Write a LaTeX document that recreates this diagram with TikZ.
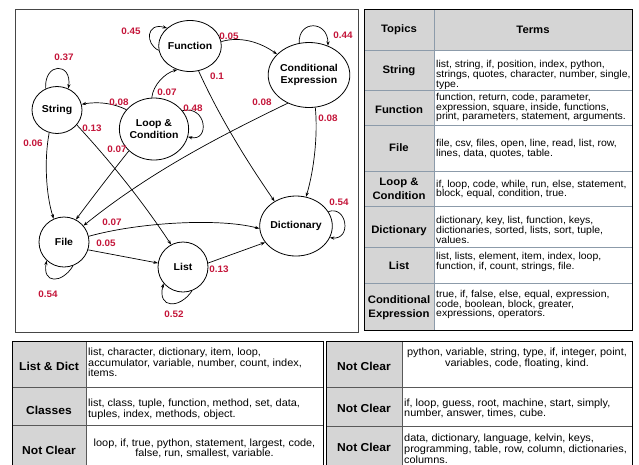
\documentclass[tikz,border=0pt]{standalone}
\usepackage{fontspec}
\setmainfont{Liberation Sans}[FakeStretch=1.05]
\usetikzlibrary{shapes.geometric,arrows.meta}
\definecolor{lblred}{RGB}{196,22,58}
\definecolor{cellgray}{RGB}{213,213,213}
\definecolor{gridblue}{RGB}{140,155,170}
\definecolor{framegray}{RGB}{70,70,70}
\begin{document}
\begin{tikzpicture}[x=1pt,y=-1pt,
  st/.style={draw,ellipse,inner sep=0pt,line width=0.8pt,font=\fontsize{10}{12.8}\selectfont\bfseries,align=center},
  ed/.style={-{Stealth[length=4.5pt,width=3.2pt]},line width=0.7pt},
  pr/.style={text=lblred,font=\fontsize{9.4}{10}\selectfont\bfseries,inner sep=0pt},
  tt/.style={font=\fontsize{10}{9.7}\selectfont,align=left,anchor=west,inner sep=0pt},
  ttb/.style={font=\fontsize{10.4}{10.8}\selectfont,align=left,anchor=west,inner sep=0pt},
  ttc/.style={font=\fontsize{10.4}{10.8}\selectfont,align=center,inner sep=0pt},
  th/.style={font=\fontsize{10.8}{14}\selectfont\bfseries,align=center,inner sep=0pt},
  thb/.style={font=\fontsize{11.5}{14}\selectfont\bfseries,align=center,inner sep=0pt},
  grid/.style={draw=gridblue,line width=0.8pt},
  gridd/.style={draw=gray!70!black,line width=0.8pt}]
\useasboundingbox (0,0) rectangle (639,464);

% ---------------- graph frame
\draw[framegray,line width=0.9pt] (15,9) rectangle (358,332);

% nodes
\node[st,minimum width=53pt,minimum height=51pt] (fn) at (190,46) {Function};
\node[st,minimum width=73pt,minimum height=65pt] (ce) at (309,75) {Conditional\\Expression};
\node[st,minimum width=50pt,minimum height=47pt] (str) at (57,110) {String};
\node[st,minimum width=61pt,minimum height=62pt] (lc) at (154,129) {Loop \&\\Condition};
\node[st,minimum width=50pt,minimum height=50pt] (fi) at (64,242) {File};
\node[st,minimum width=50pt,minimum height=50pt] (li) at (183,267) {List};
\node[st,minimum width=58pt,minimum height=60pt] (di) at (296,226) {Dictionary};

% self loops
\draw[ed] (fn.188) .. controls (145,44) and (146,22) .. (fn.142);
\draw[ed] (ce.107) .. controls (298,20) and (328,20) .. (ce.57);
\draw[ed] (str.118) .. controls (44,62) and (72,62) .. (str.62);
\draw[ed] (lc.33) .. controls (207,105) and (210,142) .. (lc.-13);
\draw[ed] (di.24) .. controls (347,205) and (352,240) .. (di.-19);
\draw[ed] (fi.-69) .. controls (62,284) and (42,284) .. (fi.-133);
\draw[ed] (li.-69) .. controls (180,309) and (157,309) .. (li.-140);

% edges
\draw[ed] (fn.8) .. controls (240,36) and (260,42) .. (ce.147);
\draw[ed] (fn.-71) .. controls (219,116) and (246,160) .. (di.131);
\draw[ed] (ce.-127) .. controls (220,136) and (150,172) .. (fi.40);
\draw[ed] (ce.-79) .. controls (318,135) and (314,170) .. (di.71);
\draw[ed] (str.-109) .. controls (44,160) and (46,195) .. (fi.114);
\draw[ed] (str.-37) .. controls (111,162) and (143,202) .. (li.118);
\draw[ed] (lc.145) .. controls (115,104) and (100,101) .. (str.13);
\draw[ed] (lc.94) .. controls (153,85) and (165,73) .. (fn.-118);
\draw[ed] (lc.-139) .. controls (112,172) and (92,198) .. (fi.62);
\draw[ed] (fi.13) .. controls (140,222) and (220,218) .. (di.184);
\draw[ed] (fi.-18) -- (li.171);
\draw[ed] (li.9) -- (di.208);

% probabilities
\node[pr] (p1) at (131,31) {0.45};
\node[pr] (p2) at (229,36) {0.05};
\node[pr] (p3) at (343,35) {0.44};
\node[pr] (p4) at (64,57) {0.37};
\node[pr] (p5) at (217,76) {0.1};
\node[pr] (p6) at (167,92) {0.07};
\node[pr] (p7) at (119,102) {0.08};
\node[pr] (p8) at (193,108) {0.48};
\node[pr] (p9) at (262,102) {0.08};
\node[pr] (p10) at (328,118) {0.08};
\node[pr] (p11) at (92,128) {0.13};
\node[pr] (p12) at (33,143) {0.06};
\node[pr] (p13) at (117,149) {0.07};
\node[pr] (p14) at (339,202) {0.54};
\node[pr] (p15) at (112,222) {0.07};
\node[pr] (p16) at (106,243) {0.05};
\node[pr] (p17) at (219,269) {0.13};
\node[pr] (p18) at (48,294) {0.54};
\node[pr] (p19) at (174,314) {0.52};

% ---------------- top right table
\fill[cellgray] (364,9) rectangle (632,50);
\fill[cellgray] (364,50) rectangle (434,330);
\foreach \yy in {50,90,125,171,206,247,283} \draw[grid] (364,\yy) -- (632,\yy);
\draw[grid] (434,9) -- (434,330);
\draw[black,line width=0.9pt] (364,9) rectangle (632,330);

\node[th] (h1) at (399,30) {Topics};
\node[th] (h2) at (533,30) {Terms};
\node[th] (t1) at (399,71) {String};
\node[th] (t2) at (399,110) {Function};
\node[th] (t3) at (399,148) {File};
\node[th] (t4) at (399,189) {Loop \&\\Condition};
\node[th] (t5) at (399,231) {Dictionary};
\node[th] (t6) at (399,266) {List};
\node[th] (t7) at (399,308) {Conditional\\Expression};

\node[tt] (w1) at (436,75) {list, string, if, position, index, python,\\strings, quotes, character, number, single,\\type.};
\node[tt] (w2) at (436,107.5) {function, return, code, parameter,\\expression, square, inside, functions,\\print, parameters, statement, arguments.};
\node[tt] (w3) at (436,149) {file, csv, files, open, line, read, list, row,\\lines, data, quotes, table.};
\node[tt] (w4) at (436,189.5) {if, loop, code, while, run, else, statement,\\block, equal, condition, true.};
\node[tt] (w5) at (436,229.8) {dictionary, key, list, function, keys,\\dictionaries, sorted, lists, sort, tuple,\\values.};
\node[tt] (w6) at (436,262) {list, lists, element, item, index, loop,\\function, if, count, strings, file.};
\node[tt] (w7) at (436,304.5) {true, if, false, else, equal, expression,\\code, boolean, block, greater,\\expressions, operators.};

% ---------------- bottom left table
\fill[cellgray] (12,341) rectangle (86,480);
\foreach \yy in {387,425} \draw[gridd] (12,\yy) -- (323,\yy);
\draw[gridd] (86,341) -- (86,480);
\draw[black,line width=0.9pt] (12,480) -- (12,341) -- (323,341) -- (323,480);

\node[thb] (b1) at (49,366) {List \& Dict};
\node[thb] (b2) at (49,410.5) {Classes};
\node[thb] (b3) at (49,450.5) {Not Clear};
\node[ttb] (c1) at (88,362.3) {list, character, dictionary, item, loop,\\accumulator, variable, number, count, index,\\items.};
\node[ttb] (c2) at (88,409.5) {list, class, tuple, function, method, set, data,\\tuples, index, methods, object.};
\node[ttc] (c3) at (204.5,448.3) {loop, if, true, python, statement, largest, code,\\false, run, smallest, variable.};

% ---------------- bottom right table
\fill[cellgray] (326,341) rectangle (402,480);
\foreach \yy in {387,426} \draw[gridd] (326,\yy) -- (632,\yy);
\draw[gridd] (402,341) -- (402,480);
\draw[black,line width=0.9pt] (326,480) -- (326,341) -- (632,341) -- (632,480);

\node[thb] (r1) at (364,366) {Not Clear};
\node[thb] (r2) at (364,408.7) {Not Clear};
\node[thb] (r3) at (364,447.3) {Not Clear};
\node[ttc] (d1) at (517,358) {python, variable, string, type, if, integer, point,\\variables, code, floating, kind.};
\node[ttb] (d2) at (404,408.3) {if, loop, guess, root, machine, start, simply,\\number, answer, times, cube.};
\node[ttb] (d3) at (404,448.7) {data, dictionary, language, kelvin, keys,\\programming, table, row, column, dictionaries,\\columns.};
\end{tikzpicture}
\end{document}
